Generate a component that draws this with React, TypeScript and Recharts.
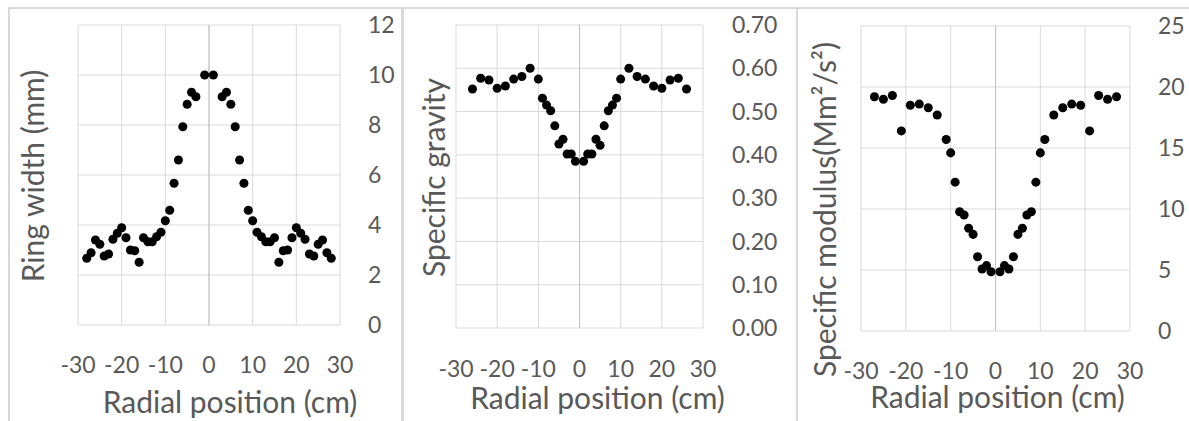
import React from 'react';
import {
  ScatterChart,
  Scatter,
  XAxis,
  YAxis,
  ZAxis,
  CartesianGrid,
  ReferenceLine,
  Label,
} from 'recharts';

// ---------- data ----------
const xTicks = [-30, -20, -10, 0, 10, 20, 30];

const ringX = [
  -28, -27, -26, -25, -24, -23, -22, -21, -20, -19, -18, -17, -16, -15, -14, -13, -12, -11, -10, -9, -8, -7, -6, -5, -4, -3, -1,
  1, 3, 4, 5, 6, 7, 8, 9, 10, 11, 12, 13, 14, 15, 16, 17, 18, 19, 20, 21, 22, 23, 24, 25, 26, 27, 28,
];
const ringWidth = [
  2.67, 2.89, 3.4, 3.23, 2.76, 2.84, 3.43, 3.67, 3.89, 3.49, 3.0, 2.97, 2.51, 3.49, 3.33, 3.33, 3.53, 3.71, 4.17, 4.59, 5.67, 6.6, 7.93, 8.83, 9.31, 9.13, 10.0,
  10.0, 9.13, 9.31, 8.83, 7.93, 6.6, 5.67, 4.59, 4.17, 3.71, 3.53, 3.33, 3.33, 3.49, 2.51, 2.97, 3.0, 3.49, 3.89, 3.67, 3.43, 2.84, 2.76, 3.23, 3.4, 2.89, 2.67,
];
const ringTicks = [0, 2, 4, 6, 8, 10, 12];

const sgX = [
  -26, -24, -22, -20, -18, -16, -14, -12, -10, -9, -8, -7, -6, -5, -4, -3, -2, -1,
  1, 2, 3, 4, 5, 6, 7, 8, 9, 10, 12, 14, 16, 18, 20, 22, 24, 26,
];
const specificGravity = [
  0.552, 0.577, 0.573, 0.554, 0.559, 0.575, 0.581, 0.6, 0.575, 0.531, 0.515, 0.502, 0.467, 0.425, 0.436, 0.402, 0.402, 0.385,
  0.385, 0.402, 0.402, 0.436, 0.422, 0.467, 0.502, 0.515, 0.531, 0.575, 0.6, 0.581, 0.575, 0.559, 0.554, 0.573, 0.577, 0.552,
];
const sgTicks = [0, 0.1, 0.2, 0.3, 0.4, 0.5, 0.6, 0.7];

const smX = [
  -27, -25, -23, -21, -19, -17, -15, -13, -11, -10, -9, -8, -7, -6, -5, -4, -3, -2, -1,
  1, 2, 3, 4, 5, 6, 7, 8, 9, 10, 11, 13, 15, 17, 19, 21, 23, 25, 27,
];
const specificModulus = [
  19.2, 19.0, 19.3, 16.4, 18.5, 18.6, 18.3, 17.7, 15.7, 14.6, 12.2, 9.78, 9.51, 8.42, 7.92, 6.09, 5.08, 5.36, 4.86,
  4.86, 5.36, 5.08, 6.09, 7.92, 8.42, 9.51, 9.78, 12.2, 14.6, 15.7, 17.7, 18.3, 18.6, 18.5, 16.4, 19.3, 19.0, 19.2,
];
const smTicks = [0, 5, 10, 15, 20, 25];

const xTitle = 'Radial position (cm)';

// ---------- style ----------
const TEXT = '#595959';
const GRID = '#d9d9d9';
const FONT = 'Lato, "Open Sans", sans-serif';
const TICK_FS = 23;
const TITLE_FS = 30;
const CH = 421;
const CW = 400;

type PanelProps = {
  left: number;
  xs: number[];
  ys: number[];
  yTicks: number[];
  fmt: (v: number) => string;
  yTitle: string;
  l: number;
  r: number;
  t: number;
  b: number;
  yTickGap: number;
  xTickGap: number;
  xTitleDx: number;
  xTitleBase: number;
  yTitleBase: number;
  yTitleDy: number;
};

function Panel(p: PanelProps) {
  const data = p.xs.map((x, i) => ({ x, y: p.ys[i] }));
  const xAxisH = 70;
  const marginRight = 10;
  const yAxisW = CW - marginRight - p.r;
  const domain = [p.yTicks[0], p.yTicks[p.yTicks.length - 1]];
  return (
    <div style={{ position: 'absolute', left: p.left, top: 0 }}>
      <ScatterChart
        width={CW}
        height={CH}
        margin={{ top: p.t, right: marginRight, left: 0, bottom: CH - p.b - xAxisH }}
        style={{ fontFamily: FONT }}
      >
        <CartesianGrid stroke={GRID} strokeWidth={1} />
        <XAxis
          type="number"
          dataKey="x"
          domain={[-30, 30]}
          ticks={xTicks}
          interval={0}
          height={xAxisH}
          axisLine={false}
          tickLine={false}
          tickSize={0}
          tickMargin={p.xTickGap}
          tick={{ fill: TEXT, fontSize: TICK_FS, fontFamily: FONT }}
        >
          <Label
            content={(lp: any) => {
              const vb = lp.viewBox || {};
              const x = vb.x + vb.width / 2 + p.xTitleDx;
              const y = vb.y + p.xTitleBase;
              return (
                <text x={x} y={y} textAnchor="middle" fill={TEXT} fontSize={TITLE_FS} fontFamily={FONT}>
                  {xTitle}
                </text>
              );
            }}
          />
        </XAxis>
        <YAxis
          yAxisId="title"
          orientation="left"
          type="number"
          domain={[0, 1]}
          width={p.l}
          tick={false}
          axisLine={false}
          tickLine={false}
        >
          <Label
            content={(lp: any) => {
              const vb = lp.viewBox || {};
              const x = vb.x + p.yTitleBase;
              const y = vb.y + vb.height / 2 + p.yTitleDy;
              return (
                <text
                  x={x}
                  y={y}
                  textAnchor="middle"
                  transform={`rotate(-90, ${x}, ${y})`}
                  fill={TEXT}
                  fontSize={TITLE_FS}
                  fontFamily={FONT}
                >
                  {p.yTitle}
                </text>
              );
            }}
          />
        </YAxis>
        <YAxis
          type="number"
          dataKey="y"
          orientation="right"
          domain={domain}
          ticks={p.yTicks}
          interval={0}
          width={yAxisW}
          axisLine={false}
          tickLine={false}
          tickSize={0}
          tickMargin={p.yTickGap}
          tickFormatter={p.fmt}
          tick={{ fill: TEXT, fontSize: TICK_FS, fontFamily: FONT, textAnchor: 'start' }}
        />
        <ZAxis range={[55, 55]} />
        <ReferenceLine x={0} stroke="#bfbfbf" strokeWidth={1} />
        <Scatter data={data} fill="#000000" isAnimationActive={false} />
      </ScatterChart>
    </div>
  );
}

export default function App() {
  const line = (s: React.CSSProperties) => (
    <div style={{ position: 'absolute', background: GRID, ...s }} />
  );
  return (
    <div
      style={{
        position: 'absolute',
        left: 0,
        top: 0,
        width: 1189,
        height: 421,
        background: '#ffffff',
        overflow: 'hidden',
        fontFamily: FONT,
      }}
    >
      <Panel
        left={0}
        xs={ringX}
        ys={ringWidth}
        yTicks={ringTicks}
        fmt={(v) => String(v)}
        yTitle="Ring width (mm)"
        l={78}
        r={340}
        t={25}
        b={325}
        yTickGap={28}
        xTickGap={32}
        xTitleDx={21}
        xTitleBase={88}
        yTitleBase={44}
        yTitleDy={1}
      />
      <Panel
        left={400}
        xs={sgX}
        ys={specificGravity}
        yTicks={sgTicks}
        fmt={(v) => v.toFixed(2)}
        yTitle="Specific gravity"
        l={56}
        r={303}
        t={25}
        b={328}
        yTickGap={29}
        xTickGap={33}
        xTitleDx={18}
        xTitleBase={81}
        yTitleBase={45}
        yTitleDy={1}
      />
      <Panel
        left={789}
        xs={smX}
        ys={specificModulus}
        yTicks={smTicks}
        fmt={(v) => String(v)}
        yTitle="Specific modulus(Mm²/s²)"
        l={72}
        r={341}
        t={26}
        b={331}
        yTickGap={28}
        xTickGap={32}
        xTitleDx={2}
        xTitleBase={77}
        yTitleBase={47}
        yTitleDy={31}
      />
      {line({ left: 8, top: 7, width: 1181, height: 2 })}
      {line({ left: 8, top: 7, width: 2, height: 414 })}
      {line({ left: 401, top: 7, width: 3, height: 414 })}
      {line({ left: 796, top: 7, width: 2, height: 414 })}
    </div>
  );
}
